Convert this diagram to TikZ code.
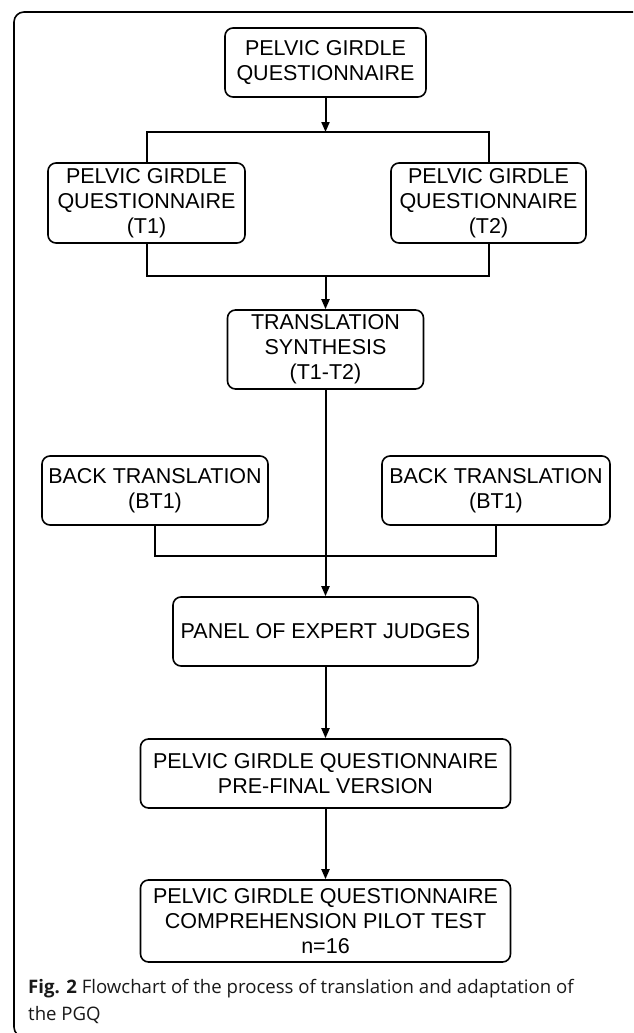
\documentclass[tikz,border=0pt]{standalone}
\usepackage{fontspec}
\setmainfont{Liberation Sans}
\newfontfamily\boxfont{Liberation Sans}
\newfontfamily\capfont{Open Sans}
\usetikzlibrary{arrows.meta}
\begin{document}
\begin{tikzpicture}[x=1pt,y=-1pt,
  box/.style={draw, rounded corners=8pt, line width=1.6pt, align=center,
    font=\boxfont\fontsize{21.5}{25}\selectfont, inner sep=0pt},
  conn/.style={line width=2pt},
  arr/.style={conn, -{Triangle[length=10pt,width=8pt]}},
  captext/.style={anchor=base west, inner sep=0pt, text=black!90,
    font=\capfont\fontsize{18.6}{26}\selectfont}]
\useasboundingbox (0,0) rectangle (633,1033);
\clip (0,0) rectangle (633,1033);
\fill[white] (0,0) rectangle (633,1033);
\draw[line width=1.6pt, rounded corners=10pt] (14,12) rectangle (645,1037);

\node[box, minimum width=201pt, minimum height=69pt] (top) at (325.5,62.5) {PELVIC GIRDLE\\QUESTIONNAIRE};
\node[box, minimum width=197pt, minimum height=80pt] (t1) at (146.5,203) {PELVIC GIRDLE\\QUESTIONNAIRE\\(T1)};
\node[box, minimum width=195pt, minimum height=80pt] (t2) at (488.5,203) {PELVIC GIRDLE\\QUESTIONNAIRE\\(T2)};
\node[box, minimum width=196pt, minimum height=79pt] (syn) at (325.5,349.5) {TRANSLATION\\SYNTHESIS\\(T1-T2)};
\node[box, minimum width=226pt, minimum height=69pt] (bt1) at (155,490.5) {BACK TRANSLATION\\(BT1)};
\node[box, minimum width=228pt, minimum height=69pt] (bt2) at (496,490.5) {BACK TRANSLATION\\(BT1)};
\node[box, minimum width=305pt, minimum height=69pt] (panel) at (325.5,631.5) {PANEL OF EXPERT JUDGES};
\node[box, minimum width=370pt, minimum height=69pt] (pre) at (325.5,773.5) {PELVIC GIRDLE QUESTIONNAIRE\\PRE-FINAL VERSION};
\node[box, minimum width=370pt, minimum height=82pt] (fin) at (325.5,921) {PELVIC GIRDLE QUESTIONNAIRE\\COMPREHENSION PILOT TEST\\n=16};

\coordinate (j1) at (325.5,132);
\coordinate (j2) at (325.5,276);
\coordinate (j3) at (325.5,556);

\draw[arr] (top.south) -- (j1);
\draw[conn] (t1.north) |- (j1) -| (t2.north);
\draw[conn] (t1.south) |- (j2) -| (t2.south);
\draw[arr] (j2) -- (syn.north);
\draw[arr] (syn.south) -- (panel.north);
\draw[conn] (bt1.south) |- (j3) -| (bt2.south);
\draw[arr] (panel.south) -- (pre.north);
\draw[arr] (pre.south) -- (fin.north);

\node[captext] (cap1) at (28,993) {\textbf{Fig. 2} Flowchart of the process of translation and adaptation of};
\node[captext] (cap2) at (28,1020) {the PGQ};
\end{tikzpicture}
\end{document}
